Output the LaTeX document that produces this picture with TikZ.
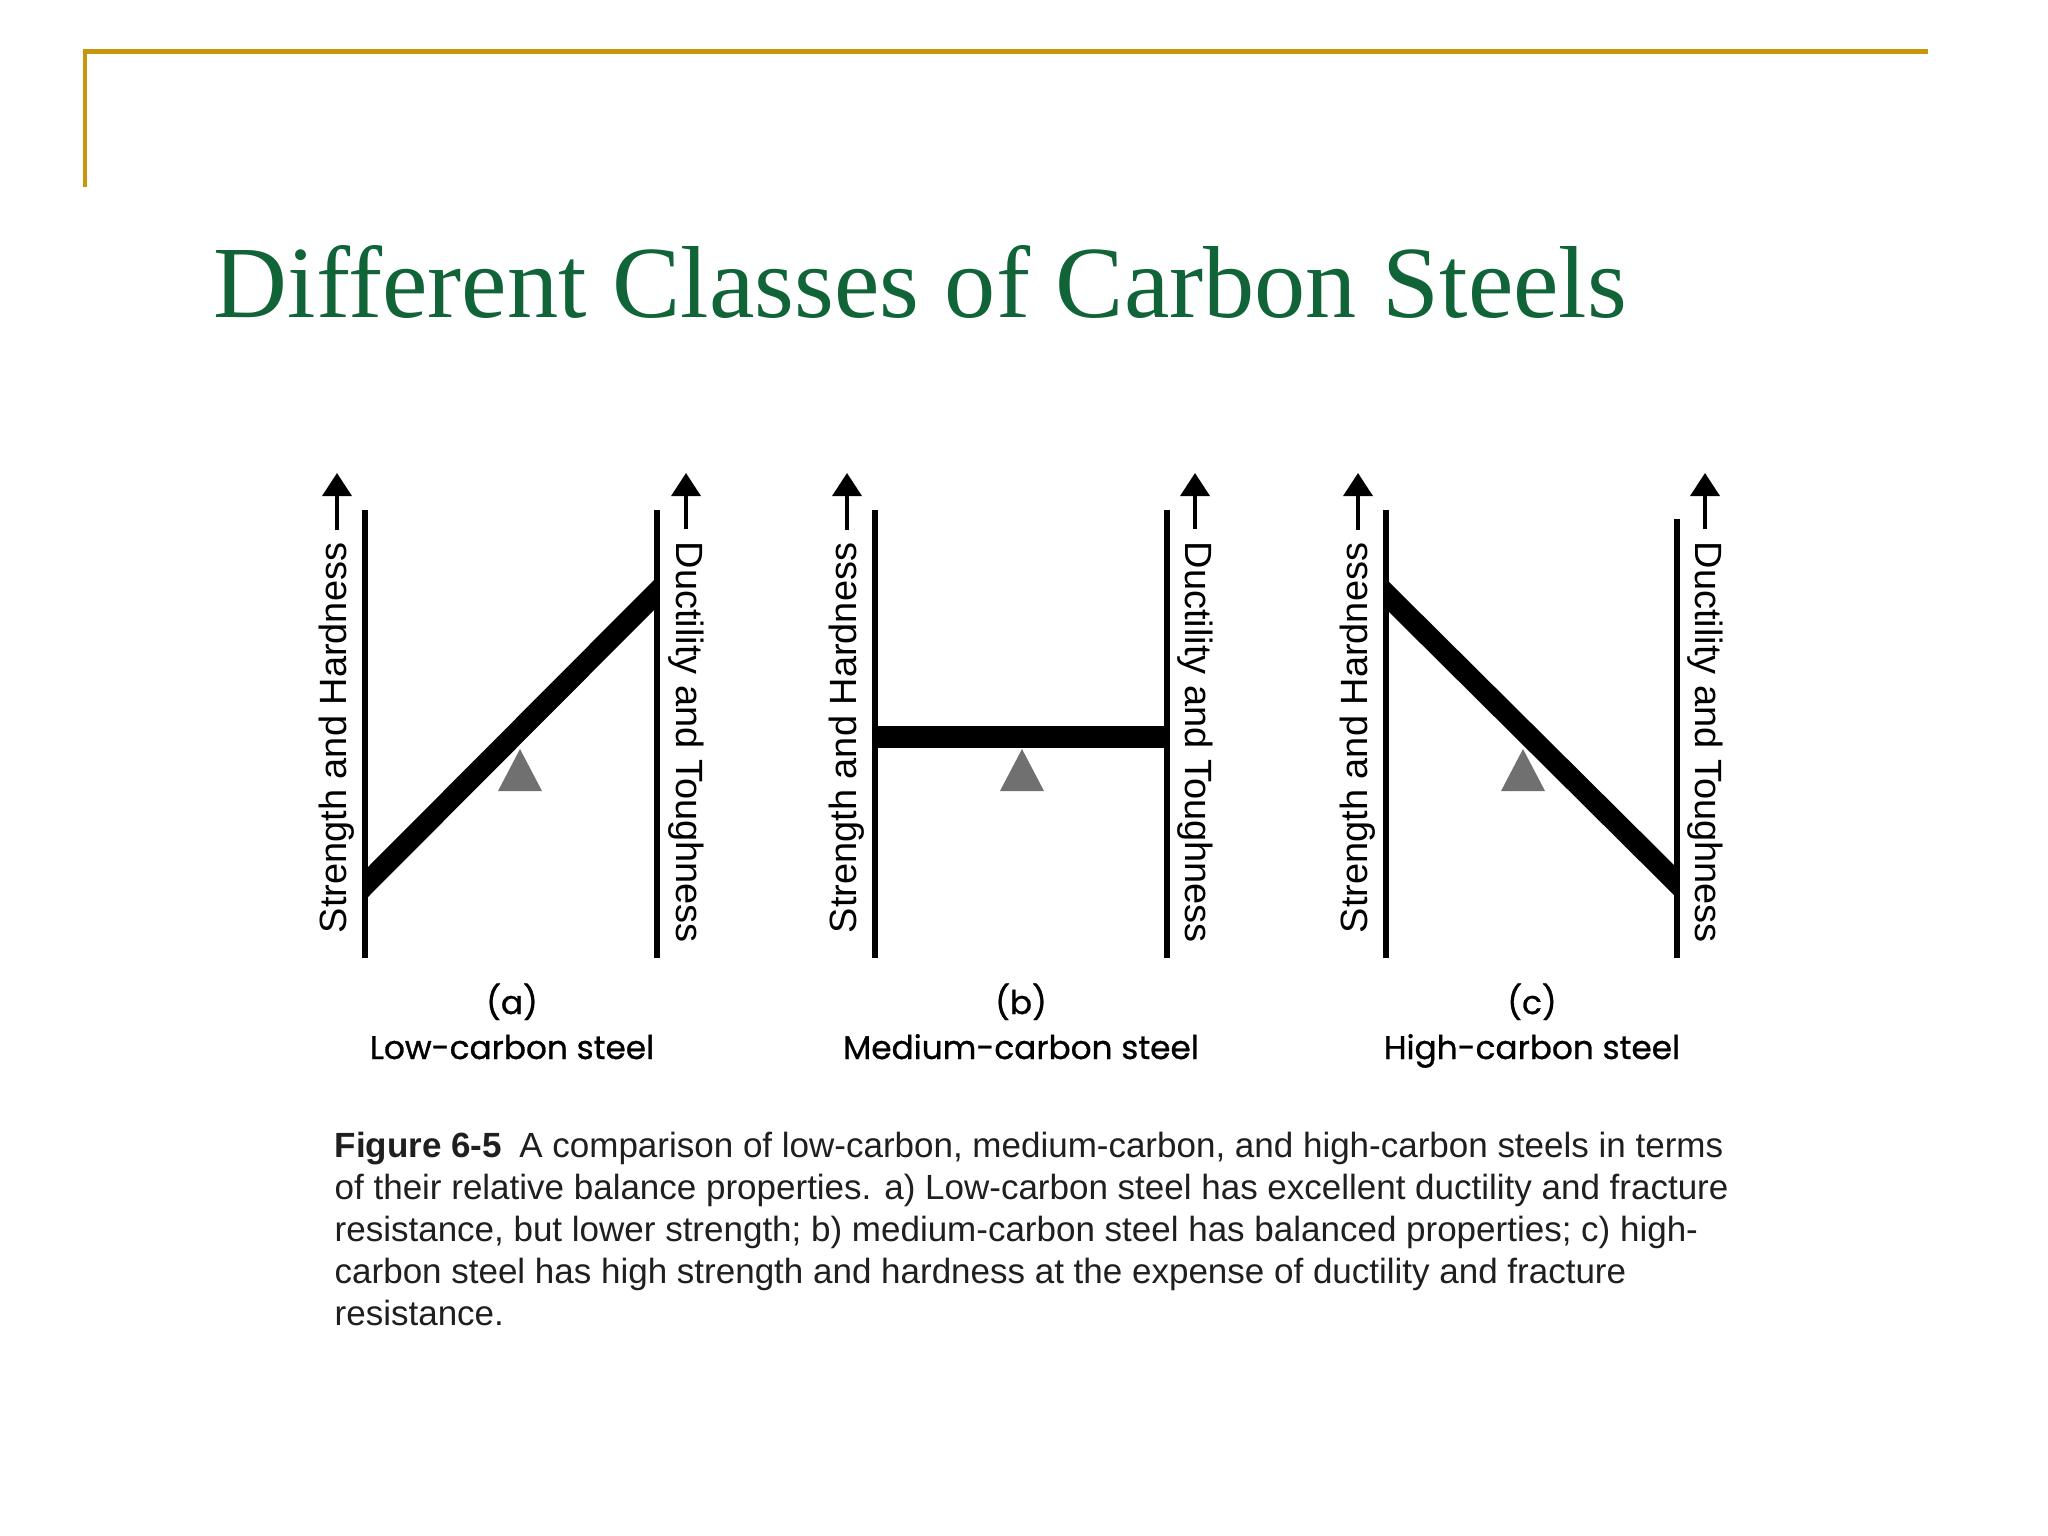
\documentclass[tikz,border=0pt]{standalone}
\usepackage{fontspec}
\setmainfont{Liberation Sans}
\newfontfamily\titlefont{Liberation Serif}
\newfontfamily\geofont{Poppins}[FakeBold=0.8]
\usetikzlibrary{arrows.meta}
\definecolor{gold}{RGB}{200,150,10}
\definecolor{titlegreen}{RGB}{16,100,56}
\definecolor{fulcrum}{RGB}{112,112,112}
\begin{document}
\begin{tikzpicture}[x=0.01cm,y=-0.01cm,
  axisline/.style={line width=1.5pt, black},
  beam/.style={fill=black},
  fulcrumtri/.style={fill=fulcrum},
  arr/.style={line width=1.05pt, -{Triangle[length=0.23cm,width=0.29cm]}},
  axlabel/.style={font=\fontsize{10.8}{12}\selectfont, inner sep=0pt},
  panlabel/.style={font=\geofont\fontsize{9.3}{11}\selectfont, inner sep=0pt, anchor=base},
  frameline/.style={gold, line width=1.35pt},
]
\useasboundingbox[fill=white] (0,0) rectangle (2048,1536);

% frame
\coordinate (fBL) at (85,187);
\coordinate (fTL) at (85,51.5);
\coordinate (fTR) at (1928,51.5);
\draw[frameline] (fBL) -- (fTL) -- (fTR);

% title
\node[anchor=base west, inner sep=0pt, text=titlegreen, font=\titlefont\fontsize{29.1}{34}\selectfont] (title) at (213,317) {Different Classes of Carbon Steels};

% ---------- panel a ----------
\coordinate (aLtop) at (365,510); \coordinate (aLbot) at (365,958);
\coordinate (aRtop) at (657,510); \coordinate (aRbot) at (657,958);
\fill[beam] (365,870) -- (657,577) -- (657,607) -- (365,900) -- cycle;
\draw[axisline] (aLtop) -- (aLbot);
\draw[axisline] (aRtop) -- (aRbot);
\fill[fulcrumtri] (520,749) -- (542,791) -- (498,791) -- cycle;
\node[axlabel, rotate=90, anchor=east] (aSH) at (337,542) {Strength and Hardness};
\coordinate (aSHtip) at (337,473);
\draw[arr, shorten <=0.12cm] (aSH.east) -- (aSHtip);
\node[axlabel, rotate=-90, anchor=west] (aDT) at (686,541) {Ductility and Toughness};
\coordinate (aDTtip) at (686,473);
\draw[arr, shorten <=0.12cm] (aDT.west) -- (aDTtip);
\node[panlabel] (aTag) at (512,1014) {(a)};
\node[panlabel] (aName) at (512,1059) {Low-carbon steel};

% ---------- panel b ----------
\coordinate (bLtop) at (875,510); \coordinate (bLbot) at (875,958);
\coordinate (bRtop) at (1167,510); \coordinate (bRbot) at (1167,958);
\fill[beam] (875,726) -- (1167,726) -- (1167,748) -- (875,748) -- cycle;
\draw[axisline] (bLtop) -- (bLbot);
\draw[axisline] (bRtop) -- (bRbot);
\fill[fulcrumtri] (1022,749) -- (1044,791) -- (1000,791) -- cycle;
\node[axlabel, rotate=90, anchor=east] (bSH) at (847,542) {Strength and Hardness};
\coordinate (bSHtip) at (847,473);
\draw[arr, shorten <=0.12cm] (bSH.east) -- (bSHtip);
\node[axlabel, rotate=-90, anchor=west] (bDT) at (1195,541) {Ductility and Toughness};
\coordinate (bDTtip) at (1195,473);
\draw[arr, shorten <=0.12cm] (bDT.west) -- (bDTtip);
\node[panlabel] (bTag) at (1021,1014) {(b)};
\node[panlabel] (bName) at (1021,1059) {Medium-carbon steel};

% ---------- panel c ----------
\coordinate (cLtop) at (1386,510); \coordinate (cLbot) at (1386,958);
\coordinate (cRtop) at (1677,519); \coordinate (cRbot) at (1677,958);
\fill[beam] (1386,579) -- (1677,868) -- (1677,898) -- (1386,609) -- cycle;
\draw[axisline] (cLtop) -- (cLbot);
\draw[axisline] (cRtop) -- (cRbot);
\fill[fulcrumtri] (1523,749) -- (1545,791) -- (1501,791) -- cycle;
\node[axlabel, rotate=90, anchor=east] (cSH) at (1358,542) {Strength and Hardness};
\coordinate (cSHtip) at (1358,473);
\draw[arr, shorten <=0.12cm] (cSH.east) -- (cSHtip);
\node[axlabel, rotate=-90, anchor=west] (cDT) at (1705,541) {Ductility and Toughness};
\coordinate (cDTtip) at (1705,473);
\draw[arr, shorten <=0.12cm] (cDT.west) -- (cDTtip);
\node[panlabel] (cTag) at (1532,1014) {(c)};
\node[panlabel] (cName) at (1532,1059) {High-carbon steel};

% caption
\node[anchor=north west, inner sep=0pt, align=left, text=black!88,
      font=\fontsize{9.95}{11.95}\selectfont] (caption) at (334,1131)
{\textbf{Figure 6-5}\enspace A comparison of low-carbon, medium-carbon, and high-carbon steels in terms\\
of their relative balance properties. a) Low-carbon steel has excellent ductility and fracture\\
resistance, but lower strength; b) medium-carbon steel has balanced properties; c) high-\\
carbon steel has high strength and hardness at the expense of ductility and fracture\\
resistance.};
\end{tikzpicture}
\end{document}
